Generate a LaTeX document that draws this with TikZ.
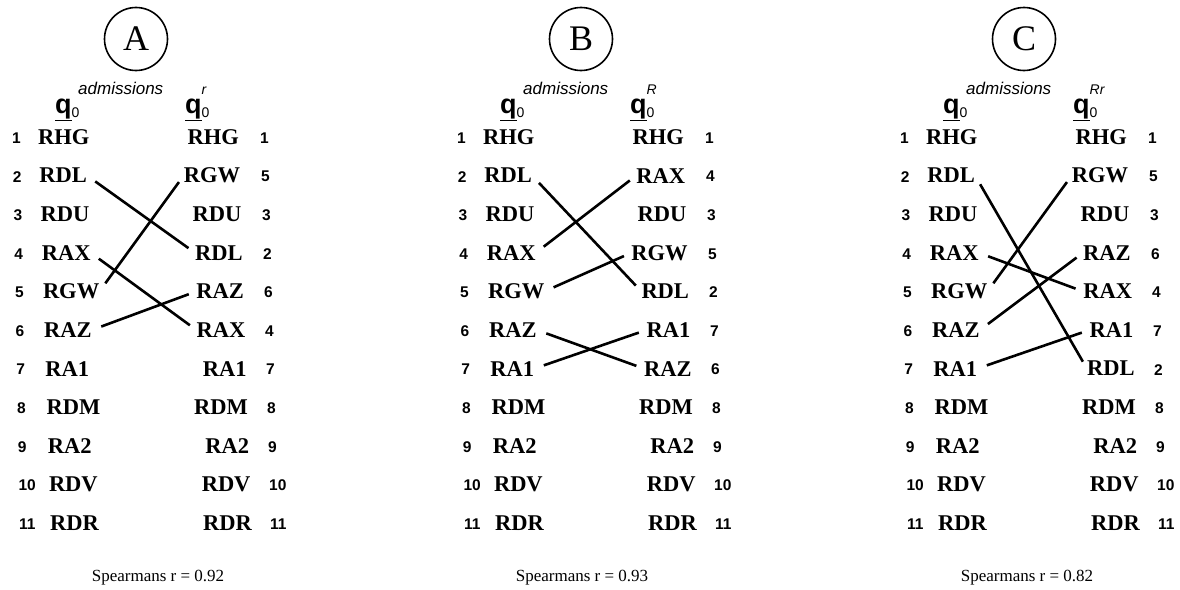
\documentclass[tikz,border=0pt]{standalone}
\usepackage{fontspec}
\setmainfont{Liberation Serif}
\newfontfamily\numfont{Liberation Sans}
\begin{document}
\begin{tikzpicture}[x=1pt,y=-1pt,
  lab/.style={font=\fontsize{22.5}{22.5}\selectfont\bfseries, inner sep=0pt},
  num/.style={font=\numfont\fontsize{15.5}{15.5}\selectfont\bfseries, inner sep=0pt},
  conn/.style={line width=2.6pt, shorten <=10pt, shorten >=8pt},
  circ/.style={circle, draw, line width=1.6pt, minimum size=63pt, inner sep=0pt, font=\fontsize{36}{36}\selectfont},
  adm/.style={font=\numfont\itshape\fontsize{17}{17}\selectfont, inner sep=0pt},
  hq/.style={font=\numfont\fontsize{27}{27}\selectfont, inner sep=0pt},
  spear/.style={font=\fontsize{17}{17}\selectfont, inner sep=0pt}]
\useasboundingbox (0,0) rectangle (1180,589);
\foreach \pf/\ox/\lett/\supr/\spx/\sr/\rl in {
  a/0/A/r/158/0.92/{RHG/1,RGW/5,RDU/3,RDL/2,RAZ/6,RAX/4,RA1/7,RDM/8,RA2/9,RDV/10,RDR/11},
  b/445/B/R/582/0.93/{RHG/1,RAX/4,RDU/3,RGW/5,RDL/2,RA1/7,RAZ/6,RDM/8,RA2/9,RDV/10,RDR/11},
  c/888/C/Rr/1027/0.82/{RHG/1,RGW/5,RDU/3,RAZ/6,RAX/4,RA1/7,RDL/2,RDM/8,RA2/9,RDV/10,RDR/11}}
{
  \node[circ] (\pf-circ) at (\ox+136,39) {\lett};
  \node[adm, anchor=west] (\pf-adm) at (\ox+78,88) {admissions};
  \node[hq, anchor=base west] (\pf-ql) at (\ox+55,113) {\underline{\bfseries q}\raisebox{-4pt}{\fontsize{14}{14}\selectfont 0}};
  \node[hq, anchor=base west] (\pf-qr) at (\ox+185,113) {\underline{\bfseries q}\rlap{\raisebox{-4pt}{\fontsize{14}{14}\selectfont 0}}\raisebox{19pt}{\fontsize{14}{14}\selectfont\itshape\supr}};
  \node[spear] (\pf-sp) at (\spx,578) {Spearmans r = \sr};
  \foreach \t [count=\i] in {RHG,RDL,RDU,RAX,RGW,RAZ,RA1,RDM,RA2,RDV,RDR} {
    \node[num, anchor=west] (\pf-ln\i) at (\ox+12+0.7*\i-0.7,138+38.6*\i-38.6) {\i};
    \node[lab, anchor=west] (\pf-l\i) at (\ox+38+1.2*\i-1.2,137+38.6*\i-38.6) {\t};
  }
  \foreach \t/\n [count=\i] in \rl {
    \node[lab, anchor=east] (\pf-r\i) at (\ox+239+1.3*\i-1.3,137+38.6*\i-38.6) {\t};
    \node[num, anchor=west] (\pf-rn\i) at (\ox+260+1.0*\i-1.0,138+38.6*\i-38.6) {\n};
  }
}
% panel A
\draw[conn] (a-l2.east) -- (a-r4.west);
\draw[conn] (a-l5.east) -- (a-r2.west);
\draw[conn] (a-l4.east) -- (a-r6.west);
\draw[conn] (a-l6.east) -- (a-r5.west);
% panel B
\draw[conn] (b-l2.east) -- (b-r5.west);
\draw[conn] (b-l4.east) -- (b-r2.west);
\draw[conn] (b-l5.east) -- (b-r4.west);
\draw[conn] (b-l6.east) -- (b-r7.west);
\draw[conn] (b-l7.east) -- (b-r6.west);
% panel C
\draw[conn] (c-l2.east) -- (c-r7.west);
\draw[conn] (c-l5.east) -- (c-r2.west);
\draw[conn] (c-l4.east) -- (c-r5.west);
\draw[conn] (c-l6.east) -- (c-r4.west);
\draw[conn] (c-l7.east) -- (c-r6.west);
\end{tikzpicture}
\end{document}
